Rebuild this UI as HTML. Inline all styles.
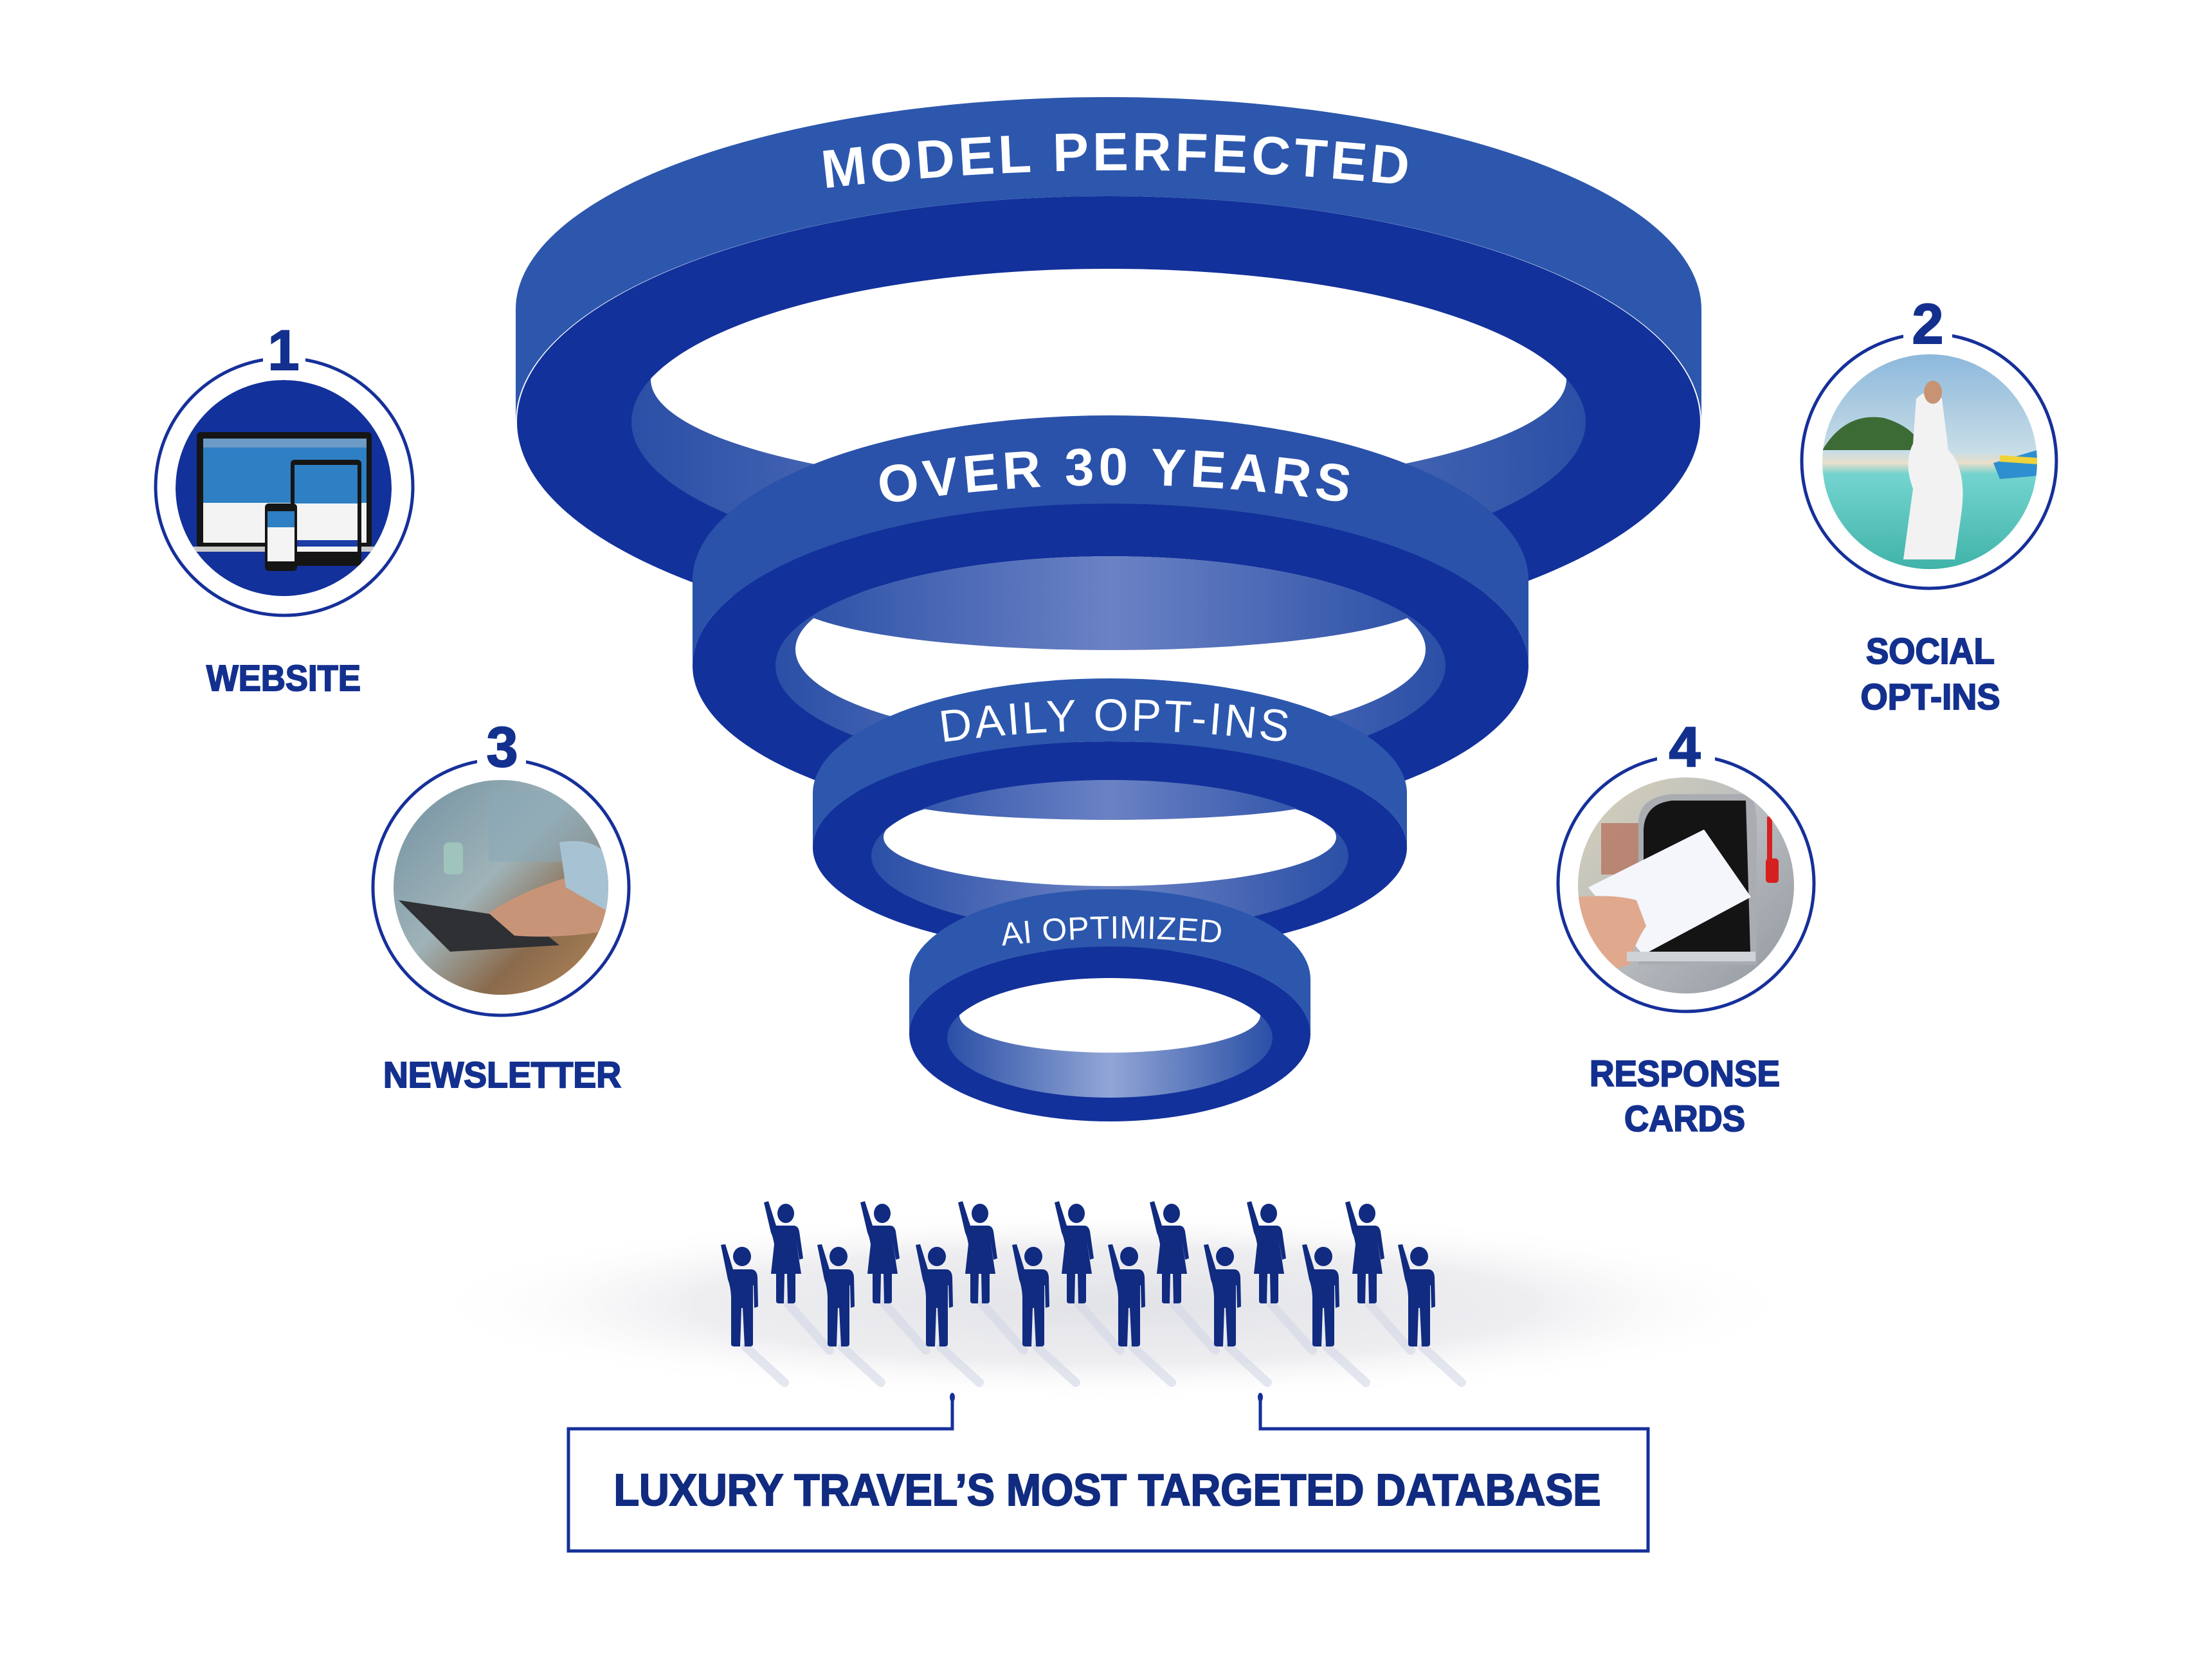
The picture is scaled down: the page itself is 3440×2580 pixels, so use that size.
<!DOCTYPE html>
<html><head><meta charset="utf-8"><style>
html,body{margin:0;padding:0;background:#fff;}
svg{display:block;}
</style></head><body>
<svg width="3440" height="2580" viewBox="0 0 3440 2580" xmlns="http://www.w3.org/2000/svg" font-family="Liberation Sans, sans-serif">
<defs>
<linearGradient id="beam" x1="0" x2="1" y1="0" y2="0">
<stop offset="0" stop-color="#2a4fa6"/><stop offset="0.5" stop-color="#6b82c4"/><stop offset="1" stop-color="#2a4fa6"/></linearGradient>
<linearGradient id="beam2" x1="0" x2="1" y1="0" y2="0">
<stop offset="0" stop-color="#2a4fa6"/><stop offset="0.5" stop-color="#92a6d6"/><stop offset="1" stop-color="#2a4fa6"/></linearGradient>
<radialGradient id="floor" cx="0.5" cy="0.5" r="0.5">
<stop offset="0" stop-color="#e2e3e7"/><stop offset="0.6" stop-color="#eeeef1"/><stop offset="1" stop-color="#ffffff" stop-opacity="0"/></radialGradient>
<linearGradient id="sea" x1="0" y1="0" x2="0" y2="1">
<stop offset="0" stop-color="#8cb8dc"/><stop offset="0.45" stop-color="#c8dde6"/><stop offset="0.5" stop-color="#eadfca"/><stop offset="0.55" stop-color="#74d4cf"/><stop offset="1" stop-color="#3fb2a8"/></linearGradient>
<linearGradient id="desk" x1="0" y1="0" x2="1" y2="1">
<stop offset="0" stop-color="#6f8fa0"/><stop offset="0.45" stop-color="#9fb3b8"/><stop offset="0.7" stop-color="#8a6a4c"/><stop offset="1" stop-color="#b8895a"/></linearGradient>
<linearGradient id="mail" x1="0" y1="0" x2="1" y2="1">
<stop offset="0" stop-color="#d8d2b8"/><stop offset="0.5" stop-color="#b9bcc0"/><stop offset="1" stop-color="#8f969e"/></linearGradient>
<clipPath id="c1"><circle cx="441" cy="759" r="168"/></clipPath>
<clipPath id="c2"><circle cx="3001" cy="718" r="167"/></clipPath>
<clipPath id="c3"><circle cx="779" cy="1380" r="167"/></clipPath>
<clipPath id="c4"><circle cx="2622" cy="1377" r="168"/></clipPath>
<clipPath id="in1"><ellipse cx="1724" cy="656" rx="742" ry="238"/></clipPath>
<clipPath id="in2"><ellipse cx="1727" cy="1035" rx="521" ry="170"/></clipPath>
<clipPath id="in3"><ellipse cx="1726" cy="1331" rx="371" ry="118"/></clipPath>
<clipPath id="in4"><ellipse cx="1726" cy="1614" rx="253" ry="93"/></clipPath>
<g id="man"><ellipse cx="0" cy="0" rx="14" ry="15"/>
<path d="M-33,-18 L-26,-19 L-14,20 L14,20 Q23,20 24,32 L25,78 L19,80 L18,45 L17,45 L17,136 Q17,140 12,140 L4,140 L1,80 L-1,80 L-3,140 L-12,140 Q-17,140 -17,136 L-17,62 Q-18,46 -22,36 Z"/></g>
<g id="woman"><ellipse cx="0" cy="0" rx="13" ry="15"/>
<path d="M-34,-17 L-27,-19 L-15,19 L12,19 Q19,19 21,28 L27,70 L21,72 L16,42 L24,94 L15,94 L15,136 Q15,140 11,140 L3,140 L2,94 L-2,94 L-3,140 L-11,140 Q-15,140 -15,136 L-15,94 L-23,94 L-18,48 Q-20,36 -23,30 Z"/></g>
</defs>
<rect width="3440" height="2580" fill="#fff"/>

<ellipse cx="1730" cy="2030" rx="1080" ry="150" fill="url(#floor)"/>

<!-- Ring 1 -->
<ellipse cx="1724" cy="656" rx="920" ry="351" fill="#13319b"/>
<path d="M802,481 L802,656 A922,351 0 0 1 2646,656 L2646,481 A922,330 0 0 0 802,481 Z" fill="#2c57ad"/>
<ellipse cx="1724" cy="656" rx="742" ry="238" fill="url(#beam)"/>
<g clip-path="url(#in1)"><ellipse cx="1724" cy="590" rx="712" ry="172" fill="#fff"/></g>

<!-- Ring 2 -->
<ellipse cx="1727" cy="1035" rx="650" ry="252" fill="#13319b"/>
<path d="M1077,902 L1077,1035 A650,252 0 0 1 2377,1035 L2377,902 A650,256 0 0 0 1077,902 Z" fill="#2a52aa"/>
<ellipse cx="1727" cy="1035" rx="521" ry="170" fill="url(#beam)"/>
<g clip-path="url(#in2)">
<ellipse cx="1727" cy="1010" rx="490" ry="145" fill="#fff"/>
<ellipse cx="1727" cy="930" rx="500" ry="81" fill="url(#beam)"/>
</g>

<!-- Ring 3 -->
<ellipse cx="1726" cy="1318" rx="462" ry="165" fill="#13319b"/>
<path d="M1264,1234 L1264,1318 A462,165 0 0 1 2188,1318 L2188,1234 A462,179 0 0 0 1264,1234 Z" fill="#2c57ad"/>
<ellipse cx="1726" cy="1331" rx="371" ry="118" fill="url(#beam)"/>
<g clip-path="url(#in3)">
<ellipse cx="1726" cy="1302" rx="352" ry="76" fill="#fff"/>
<ellipse cx="1726" cy="1238" rx="345" ry="37" fill="url(#beam)"/>
</g>

<!-- Ring 4 -->
<ellipse cx="1726" cy="1608" rx="312" ry="136" fill="#13319b"/>
<path d="M1414,1523 L1414,1608 A312,136 0 0 1 2038,1608 L2038,1523 A312,140 0 0 0 1414,1523 Z" fill="#2c57ad"/>
<ellipse cx="1726" cy="1614" rx="253" ry="93" fill="url(#beam2)"/>
<g clip-path="url(#in4)"><ellipse cx="1726" cy="1579" rx="234" ry="58" fill="#fff"/></g>

<defs>
<path id="t1" d="M1240,298 Q1730,234 2230,293"/>
<path id="t2" d="M1340,789 Q1733,720 2126,787"/>
<path id="t3" d="M1440,1158 Q1733,1114 2026,1158"/>
<path id="t4" d="M1540,1473 Q1729,1448 1918,1469"/>
</defs>
<text fill="#fff" font-weight="bold" font-size="84"><textPath href="#t1" startOffset="50%" text-anchor="middle" textLength="910">MODEL PERFECTED</textPath></text>
<text fill="#fff" font-weight="bold" font-size="82"><textPath href="#t2" startOffset="50%" text-anchor="middle" textLength="730">OVER 30 YEARS</textPath></text>
<text fill="#fff" font-size="70"><textPath href="#t3" startOffset="50%" text-anchor="middle" textLength="540">DAILY OPT-INS</textPath></text>
<text fill="#fff" font-size="50"><textPath href="#t4" startOffset="50%" text-anchor="middle" textLength="342">AI OPTIMIZED</textPath></text>

<g fill="none" stroke="#16309a" stroke-width="5">
<circle cx="442" cy="757" r="200"/>
<circle cx="3000" cy="717" r="198"/>
<circle cx="779" cy="1380" r="199"/>
<circle cx="2622" cy="1374" r="199"/>
</g>
<g fill="#fff">
<rect x="409" y="520" width="66" height="60"/>
<rect x="2960" y="480" width="76" height="60"/>
<rect x="742" y="1140" width="76" height="60"/>
<rect x="2577" y="1140" width="90" height="60"/>
</g>
<g fill="#13308f" stroke="#13308f" stroke-width="2" font-weight="bold" font-size="88" text-anchor="middle">
<text x="441" y="575">1</text>
<text x="2998" y="534">2</text>
<text x="781" y="1192">3</text>
<text x="2620" y="1192">4</text>
</g>

<g clip-path="url(#c1)">
<circle cx="441" cy="759" r="168" fill="#13319b"/>
<rect x="306" y="672" width="272" height="180" rx="6" fill="#151515"/>
<rect x="316" y="682" width="254" height="100" fill="#2e7fc4"/>
<rect x="316" y="682" width="254" height="14" fill="#6b9bc6"/>
<rect x="316" y="782" width="254" height="62" fill="#f3f3f3"/>
<rect x="296" y="850" width="292" height="8" fill="#c9c9c9"/>
<rect x="452" y="715" width="110" height="165" rx="6" fill="#151515"/>
<rect x="458" y="723" width="98" height="60" fill="#2e7fc4"/>
<rect x="458" y="783" width="98" height="75" fill="#f4f4f4"/>
<rect x="458" y="840" width="98" height="10" fill="#1b3ea6"/>
<rect x="412" y="783" width="50" height="105" rx="6" fill="#151515"/>
<rect x="416" y="795" width="42" height="78" fill="#f4f4f4"/>
<rect x="416" y="795" width="42" height="25" fill="#2e7fc4"/>
</g>
<g clip-path="url(#c2)">
<rect x="2830" y="550" width="340" height="340" fill="url(#sea)"/>
<path d="M2834,700 Q2870,640 2930,650 Q2980,665 2990,700 Z" fill="#3c6b35"/>
<path d="M2980,620 Q3000,600 3020,620 L3030,700 Q3060,730 3050,800 L3040,870 L2960,870 L2975,760 Q2960,720 2975,690 Z" fill="#f2f2f2"/>
<ellipse cx="3006" cy="610" rx="14" ry="18" fill="#c79373"/>
<path d="M3100,720 L3168,700 L3168,740 L3110,745 Z" fill="#2d8fd0"/>
<path d="M3110,708 L3168,712 L3168,722 L3110,718 Z" fill="#f0d23a"/>
</g>
<g clip-path="url(#c3)">
<rect x="610" y="1210" width="340" height="340" fill="url(#desk)"/>
<rect x="760" y="1230" width="200" height="110" fill="#8aa9b8" opacity="0.6"/>
<path d="M620,1400 L700,1480 L870,1470 L820,1430 Z" fill="#2e3033"/>
<path d="M760,1420 Q820,1380 900,1360 L950,1400 L930,1450 Q860,1460 800,1455 Z" fill="#c89478"/>
<rect x="690" y="1310" width="30" height="50" rx="8" fill="#9fc4bb"/>
<path d="M870,1310 Q930,1300 950,1340 L950,1420 L880,1380 Z" fill="#a7c2d3"/>
</g>
<g clip-path="url(#c4)">
<rect x="2450" y="1205" width="345" height="345" fill="url(#mail)"/>
<rect x="2490" y="1280" width="60" height="80" fill="#b46b55" opacity="0.7"/>
<path d="M2548,1360 L2548,1280 Q2548,1240 2600,1235 L2720,1235 Q2730,1240 2732,1280 L2732,1500 L2548,1500 Z" fill="#a9adb2"/>
<path d="M2556,1360 L2556,1290 Q2558,1250 2600,1245 L2715,1245 L2722,1480 L2556,1480 Z" fill="#141414"/>
<rect x="2748" y="1270" width="8" height="70" fill="#d62020"/>
<rect x="2746" y="1335" width="20" height="38" rx="5" fill="#d62020"/>
<path d="M2470,1380 L2650,1290 L2723,1395 L2555,1485 Z" fill="#f4f6fb"/>
<path d="M2452,1395 Q2510,1390 2545,1400 L2560,1440 Q2540,1470 2535,1500 L2470,1520 L2452,1480 Z" fill="#e0a98e"/>
<rect x="2530" y="1480" width="200" height="15" fill="#cfd3d8"/>
</g>

<g fill="#13308f" stroke="#13308f" stroke-width="2" font-weight="bold" font-size="57" text-anchor="middle">
<text x="441" y="1074" textLength="240" lengthAdjust="spacingAndGlyphs">WEBSITE</text>
<text x="3002" y="1032" textLength="200" lengthAdjust="spacingAndGlyphs">SOCIAL</text>
<text x="3002" y="1103" textLength="217" lengthAdjust="spacingAndGlyphs">OPT-INS</text>
<text x="781" y="1691" textLength="370" lengthAdjust="spacingAndGlyphs">NEWSLETTER</text>
<text x="2620" y="1689" textLength="296" lengthAdjust="spacingAndGlyphs">RESPONSE</text>
<text x="2620" y="1759" textLength="188" lengthAdjust="spacingAndGlyphs">CARDS</text>
</g>

<g stroke="#d3d8e6" stroke-width="14" stroke-linecap="round" opacity="0.6">
<line x1="1160" y1="2095" x2="1220" y2="2150"/><line x1="1310" y1="2095" x2="1370" y2="2150"/>
<line x1="1463" y1="2095" x2="1523" y2="2150"/><line x1="1613" y1="2095" x2="1673" y2="2150"/>
<line x1="1762" y1="2095" x2="1822" y2="2150"/><line x1="1911" y1="2095" x2="1971" y2="2150"/>
<line x1="2064" y1="2095" x2="2124" y2="2150"/><line x1="2213" y1="2095" x2="2273" y2="2150"/>
<line x1="1226" y1="2028" x2="1290" y2="2100"/><line x1="1376" y1="2028" x2="1440" y2="2100"/>
<line x1="1528" y1="2028" x2="1592" y2="2100"/><line x1="1678" y1="2028" x2="1742" y2="2100"/>
<line x1="1826" y1="2028" x2="1890" y2="2100"/><line x1="1977" y1="2028" x2="2041" y2="2100"/>
<line x1="2130" y1="2028" x2="2194" y2="2100"/>
</g>
<g fill="#102b80">
<use href="#woman" x="1222" y="1887"/><use href="#woman" x="1372" y="1887"/>
<use href="#woman" x="1524" y="1887"/><use href="#woman" x="1674" y="1887"/>
<use href="#woman" x="1822" y="1887"/><use href="#woman" x="1973" y="1887"/>
<use href="#woman" x="2126" y="1887"/>
<use href="#man" x="1154" y="1954"/><use href="#man" x="1304" y="1954"/>
<use href="#man" x="1457" y="1954"/><use href="#man" x="1607" y="1954"/>
<use href="#man" x="1756" y="1954"/><use href="#man" x="1905" y="1954"/>
<use href="#man" x="2058" y="1954"/><use href="#man" x="2207" y="1954"/>
</g>

<g fill="none" stroke="#16309a" stroke-width="5">
<path d="M1481,2173 L1481,2222 L884,2222 L884,2412 L2563,2412 L2563,2222 L1960,2222 L1960,2173"/>
</g>
<ellipse cx="1481" cy="2173" rx="4" ry="7" fill="#16309a"/>
<ellipse cx="1960" cy="2173" rx="4" ry="7" fill="#16309a"/>
<text x="1722" y="2341" fill="#102b80" stroke="#102b80" stroke-width="2" font-weight="bold" font-size="70" text-anchor="middle" textLength="1535" lengthAdjust="spacingAndGlyphs">LUXURY TRAVEL’S MOST TARGETED DATABASE</text>
</svg>
</body></html>
